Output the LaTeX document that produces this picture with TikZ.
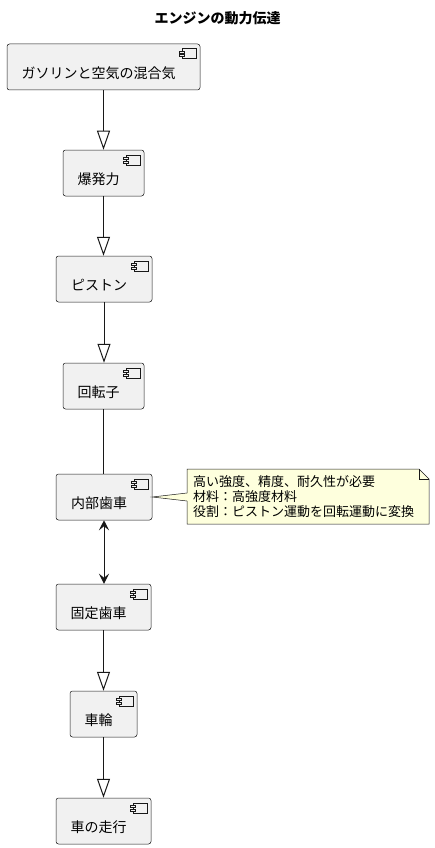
\documentclass[tikz,border=0pt]{standalone}
\usepackage{fontspec}
\setmainfont{Noto Sans CJK JP}
\usetikzlibrary{arrows.meta,calc}
\definecolor{compfill}{HTML}{F1F1F1}
\definecolor{lineclr}{HTML}{181818}
\definecolor{notefill}{HTML}{FEFFDD}
\tikzset{
  comp/.style={draw=lineclr, fill=compfill, line width=0.5pt, rounded corners=2.5pt,
    minimum height=46pt, inner ysep=0pt, inner xsep=0pt, text height=30pt, text depth=7.4pt,
    font=\fontsize{14pt}{16pt}\selectfont, execute at end node={\hspace*{10pt}}},
  flow/.style={draw=lineclr, line width=1pt, -{Triangle[open,length=19pt,width=13pt]}},
  plainline/.style={draw=lineclr, line width=1pt},
  bidir/.style={draw=lineclr, line width=1pt,
    {Stealth[length=10pt,width=10pt,inset=4pt]}-{Stealth[length=10pt,width=10pt,inset=4pt]}},
  notebox/.style={draw=lineclr, fill=notefill, line width=0.5pt},
  notetext/.style={inner sep=0pt, align=left, anchor=west, font=\fontsize{13pt}{15pt}\selectfont},
  iconrect/.style={draw=lineclr, fill=compfill, line width=0.5pt},
  titletext/.style={font=\bfseries\fontsize{14pt}{16pt}\selectfont}
}
\newcommand\compicon[1]{%
  \draw[iconrect] ($(#1.north east)+(-18,5)$) rectangle ($(#1.north east)+(-4,15)$);
  \draw[iconrect] ($(#1.north east)+(-21,7.5)$) rectangle ($(#1.north east)+(-16,9.5)$);
  \draw[iconrect] ($(#1.north east)+(-21,11)$) rectangle ($(#1.north east)+(-16,13)$);
}
\begin{document}
\begin{tikzpicture}[x=1pt, y=-1pt]
\useasboundingbox (0,0) rectangle (435,848);
\node[titletext] (title) at (217.5,18) {エンジンの動力伝達};

\node[comp, minimum width=193pt] (n1) at (103.5,67) {ガソリンと空気の混合気};
\node[comp, minimum width=81pt] (n2) at (103.5,173) {爆発力};
\node[comp, minimum width=96pt] (n3) at (104,279) {ピストン};
\node[comp, minimum width=81pt] (n4) at (103.5,386) {回転子};
\node[comp, minimum width=96pt] (n5) at (104,497) {内部歯車};
\node[comp, minimum width=95pt] (n6) at (103.5,607) {固定歯車};
\node[comp, minimum width=67pt] (n7) at (103.5,714) {車輪};
\node[comp, minimum width=95pt] (n8) at (103.5,821) {車の走行};

\foreach \n in {n1,n2,n3,n4,n5,n6,n7,n8} {\compicon{\n}}

\draw[flow] (n1.south) -- (n1.south |- n2.north);
\draw[flow] (n2.south) -- (n2.south |- n3.north);
\draw[flow] (n3.south) -- (n3.south |- n4.north);
\draw[plainline] (n4.south) -- (n4.south |- n5.north);
\draw[bidir] (n5.south) -- (n5.south |- n6.north);
\draw[flow] (n6.south) -- (n6.south |- n7.north);
\draw[flow] (n7.south) -- (n7.south |- n8.north);

% note
\coordinate (nw) at (187,469);
\coordinate (fold) at (419,469);
\coordinate (foldb) at (429,479);
\coordinate (se) at (429,524);
\coordinate (sw) at (187,524);
\coordinate (wlow) at (187,501);
\coordinate (whigh) at (187,493);
\draw[notebox] (nw) -- (fold) -- (foldb) -- (se) -- (sw) -- (wlow) -- (n5.east) -- (whigh) -- cycle;
\draw[notebox, fill=none] (fold) -- (fold |- foldb) -- (foldb);
\node[notetext] (note) at (193,496.5) {高い強度、精度、耐久性が必要\\材料：高強度材料\\役割：ピストン運動を回転運動に変換};
\end{tikzpicture}
\end{document}
